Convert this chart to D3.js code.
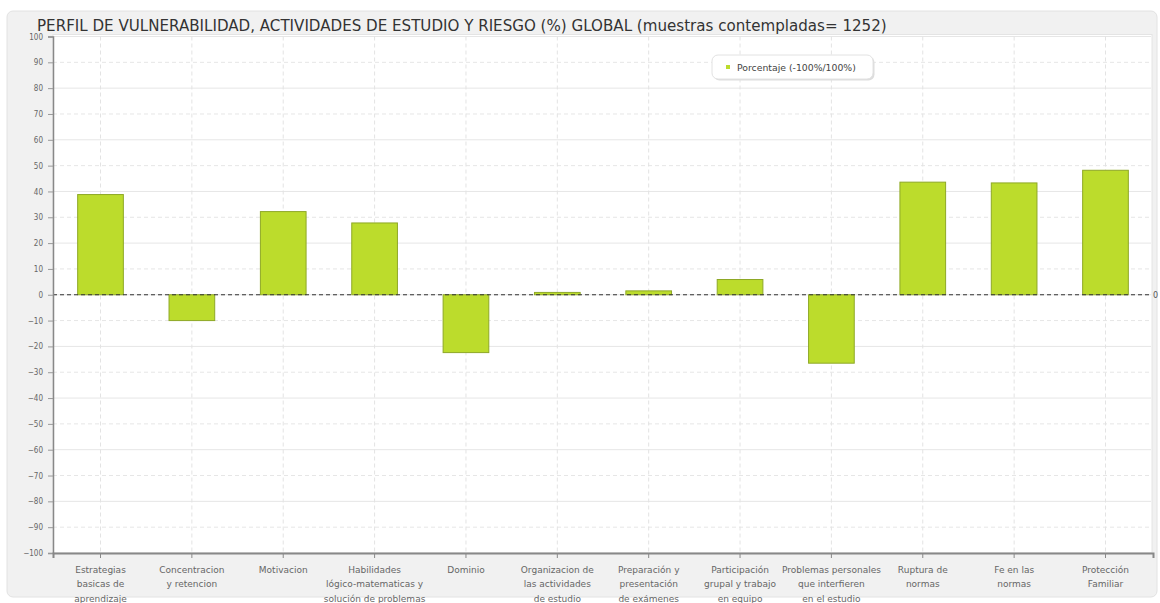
<!DOCTYPE html>
<html>
<head>
<meta charset="utf-8">
<script src="https://cdn.jsdelivr.net/npm/d3@7"></script>
<style>
  body { margin: 0; background: #fff; }
  svg { display: block; font-family: "DejaVu Sans", Verdana, sans-serif; }
</style>
</head>
<body>
<script>
// chart data
const categories = [
  "Estrategias\nbasicas de\naprendizaje",
  "Concentracion\ny retencion",
  "Motivacion",
  "Habilidades\nlógico-matematicas y\nsolución de problemas",
  "Dominio",
  "Organizacion de\nlas actividades\nde estudio",
  "Preparación y\npresentación\nde exámenes",
  "Participación\ngrupal y trabajo\nen equipo",
  "Problemas personales\nque interfieren\nen el estudio",
  "Ruptura de\nnormas",
  "Fe en las\nnormas",
  "Protección\nFamiliar"
];
const values = [38.8, -10, 32.2, 27.8, -22.4, 0.9, 1.5, 5.9, -26.5, 43.6, 43.3, 48.2];
const yTicks = [100, 90, 80, 70, 60, 50, 40, 30, 20, 10, 0, -10, -20, -30, -40, -50, -60, -70, -80, -90, -100];
const title = "PERFIL DE VULNERABILIDAD, ACTIVIDADES DE ESTUDIO Y RIESGO (%) GLOBAL (muestras contempladas= 1252)";
const seriesName = "Porcentaje (-100%/100%)";

const w = 1160, h = 603;
const pLeft = 53, pRight = 1153, pTop = 36.5, pBottom = 553;

const svg = d3.select("body").append("svg")
  .attr("width", w)
  .attr("height", h);

// outer panel
svg.append("rect")
  .attr("x", 7).attr("y", 11)
  .attr("width", 1150).attr("height", 586)
  .attr("rx", 6)
  .attr("fill", "#f1f1f1")
  .attr("stroke", "#e2e2e2");

// plot area
svg.append("rect")
  .attr("x", pLeft).attr("y", pTop - 2)
  .attr("width", pRight - pLeft - 1).attr("height", pBottom - pTop + 2)
  .attr("fill", "#fff")
  .attr("stroke", "#e4e4e4");

const x = d3.scaleBand()
  .domain(d3.range(categories.length))
  .range([pLeft, pRight])
  .paddingInner(0.5)
  .paddingOuter(0.27);

const y = d3.scaleLinear()
  .domain([-100, 100])
  .range([pBottom, pTop]);

// grid
svg.append("g")
  .selectAll("line")
  .data(yTicks)
  .join("line")
  .attr("x1", pLeft).attr("x2", pRight - 2)
  .attr("y1", d => y(d)).attr("y2", d => y(d))
  .attr("stroke", "#e6e6e6")
  .attr("stroke-dasharray", (d, i) => i % 2 ? "4,3" : null);

svg.append("g")
  .selectAll("line")
  .data(d3.range(categories.length))
  .join("line")
  .attr("x1", d => x(d) + x.bandwidth() / 2).attr("x2", d => x(d) + x.bandwidth() / 2)
  .attr("y1", pTop).attr("y2", pBottom)
  .attr("stroke", "#e3e3e3")
  .attr("stroke-dasharray", "4,3");

// bars
svg.append("g")
  .selectAll("rect")
  .data(values)
  .join("rect")
  .attr("x", (d, i) => x(i))
  .attr("width", x.bandwidth())
  .attr("y", d => y(Math.max(0, d)))
  .attr("height", d => Math.abs(y(d) - y(0)))
  .attr("fill", "#bcdc2c")
  .attr("stroke", "#8ea826")
  .attr("stroke-width", 1);

// zero line
svg.append("line")
  .attr("x1", pLeft).attr("x2", pRight - 2)
  .attr("y1", y(0)).attr("y2", y(0))
  .attr("stroke", "#333")
  .attr("stroke-width", 1.2)
  .attr("stroke-dasharray", "4,3");

svg.append("text")
  .attr("x", pRight).attr("y", y(0) + 3)
  .attr("font-size", 8).attr("fill", "#555")
  .text("0");

// y axis
const yAxis = d3.axisLeft(y).tickValues(yTicks).tickSize(5).tickPadding(5);
const gy = svg.append("g")
  .attr("transform", "translate(" + pLeft + ",0)")
  .call(yAxis);
gy.select(".domain").attr("stroke", "#888").attr("stroke-width", 1.5);
gy.selectAll(".tick line").attr("stroke", "#999");
gy.selectAll("text").attr("font-size", 8).attr("fill", "#666").attr("font-family", "DejaVu Sans Condensed, DejaVu Sans");

// x axis
const xAxis = d3.axisBottom(x).tickSize(5).tickFormat("");
const gx = svg.append("g")
  .attr("transform", "translate(0," + pBottom + ")")
  .call(xAxis);
gx.select(".domain").attr("stroke", "#888").attr("stroke-width", 2);
gx.selectAll(".tick line").attr("stroke", "#888");

gx.selectAll(".tick")
  .append("text")
  .attr("fill", "#666")
  .attr("font-size", 9)
  .attr("font-family", "DejaVu Sans")
  .attr("text-anchor", "middle")
  .selectAll("tspan")
  .data(d => categories[d].split("\n"))
  .join("tspan")
  .attr("x", 0)
  .attr("y", (d, i) => 19.5 + i * 14.5)
  .text(d => d);

// title
svg.append("text")
  .attr("x", 37).attr("y", 31)
  .attr("font-size", 15.1)
  .attr("fill", "#333")
  .attr("font-family", "DejaVu Sans")
  .text(title);

// legend
const lg = svg.append("g").attr("transform", "translate(712,55)");
lg.append("rect")
  .attr("x", 1.5).attr("y", 1.5)
  .attr("width", 161).attr("height", 24).attr("rx", 6)
  .attr("fill", "#ddd");
lg.append("rect")
  .attr("width", 161).attr("height", 24).attr("rx", 6)
  .attr("fill", "#fff").attr("stroke", "#e2e2e2");
lg.append("rect")
  .attr("x", 14).attr("y", 10).attr("width", 4).attr("height", 4)
  .attr("fill", "#bcdc2c");
lg.append("text")
  .attr("x", 25).attr("y", 15.5)
  .attr("font-size", 9.3).attr("fill", "#444")
  .attr("font-family", "DejaVu Sans")
  .text(seriesName);
</script>
</body>
</html>
